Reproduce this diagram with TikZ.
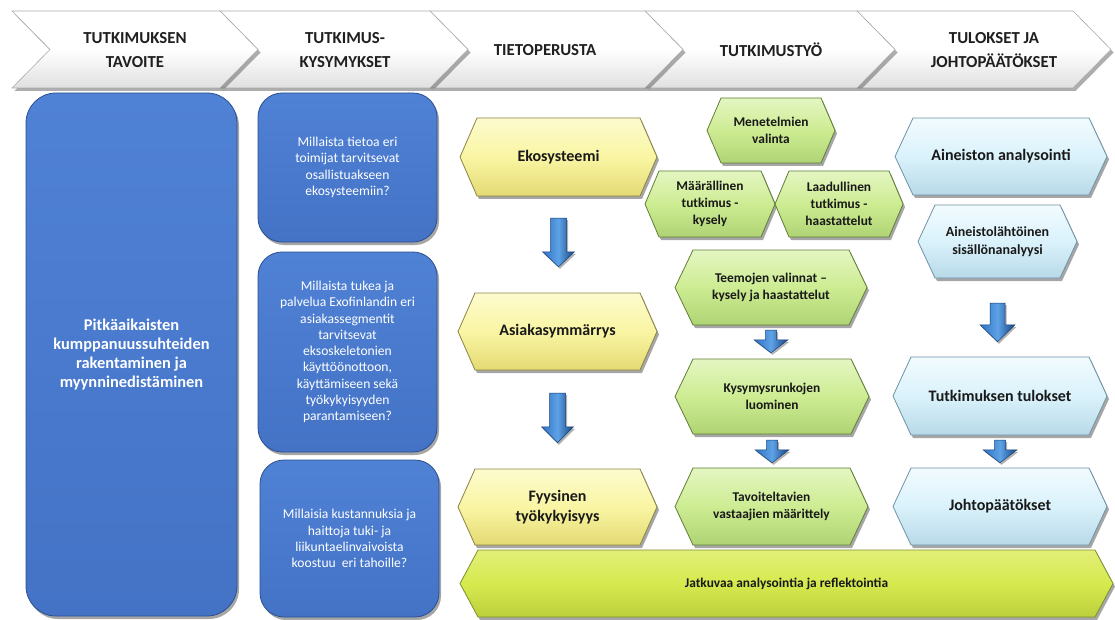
\documentclass[tikz,border=0pt]{standalone}
\usepackage{fontspec}
\setmainfont{Carlito}
\usetikzlibrary{shadows,calc}

% palette
\definecolor{chevtop}{HTML}{FFFFFF}
\definecolor{chevbot}{HTML}{E0E0E0}
\definecolor{chevline}{HTML}{ABABAB}
\definecolor{qblue}{HTML}{4473C6}
\definecolor{qbluelight}{HTML}{4F81D4}
\definecolor{qbluedark}{HTML}{2B4F8F}
\definecolor{yelA}{HTML}{FDFBCF}
\definecolor{yelB}{HTML}{F9F5A3}
\definecolor{yelC}{HTML}{E4DA74}
\definecolor{yelline}{HTML}{8A8440}
\definecolor{grnA}{HTML}{E4F6C2}
\definecolor{grnB}{HTML}{CDEC92}
\definecolor{grnC}{HTML}{AFD474}
\definecolor{grnline}{HTML}{5F7F35}
\definecolor{cyaA}{HTML}{F2FBFE}
\definecolor{cyaB}{HTML}{DAF2FB}
\definecolor{cyaC}{HTML}{B8D9E8}
\definecolor{cyaline}{HTML}{6E93A6}
\definecolor{limA}{HTML}{E2EF78}
\definecolor{limB}{HTML}{D6E94E}
\definecolor{limC}{HTML}{BCD03C}
\definecolor{limline}{HTML}{7D8F2A}
\definecolor{arrL}{HTML}{2F72C4}
\definecolor{arrM}{HTML}{5DA2E6}
\definecolor{arrR}{HTML}{16437F}
\definecolor{arrline}{HTML}{173F75}

\tikzset{
  softshadow/.style={drop shadow={shadow xshift=2pt, shadow yshift=-3pt, opacity=.35, fill=black}},
  chev/.style={top color=chevtop, bottom color=chevbot, middle color=chevtop, draw=chevline, line width=.6pt,
    drop shadow={shadow xshift=2.5pt, shadow yshift=-3pt, opacity=.45, fill=black!70}},
  chevtext/.style={align=center, inner sep=0pt, font=\fontsize{16.8}{24}\selectfont\bfseries, text=black!88},
  qbox/.style={top color=qbluelight, bottom color=qblue, draw=qbluedark, line width=.8pt, softshadow,
    text=white, align=center, inner sep=0pt},
  goaltext/.style={font=\fontsize{16.4}{19.3}\selectfont\bfseries},
  qtext/.style={font=\fontsize{13.6}{16.25}\selectfont},
  hexY/.style={top color=yelA, bottom color=yelC, middle color=yelB, draw=yelline, line width=.8pt, softshadow},
  hexG/.style={top color=grnA, bottom color=grnC, middle color=grnB, draw=grnline, line width=.8pt, softshadow},
  hexC/.style={top color=cyaA, bottom color=cyaC, middle color=cyaB, draw=cyaline, line width=.8pt, softshadow},
  hexL/.style={top color=limA, bottom color=limC, middle color=limB, draw=limline, line width=.8pt, softshadow},
  hextext/.style={align=center, inner sep=0pt, text=black!90},
  bigtext/.style={font=\fontsize{16}{20}\selectfont\bfseries},
  smalltext/.style={font=\fontsize{13.4}{16.8}\selectfont\bfseries},
  midtext/.style={font=\fontsize{14}{18}\selectfont\bfseries},
  arrowbody/.style={left color=arrL, right color=arrR, middle color=arrM, draw=arrline, line width=.5pt,
    drop shadow={shadow xshift=1.5pt, shadow yshift=-2pt, opacity=.3, fill=black}},
}

% chevron of the header band: name, left x, right x, text centre x, text
\newcommand\chevron[5]{%
  \path[chev] (#2,11) -- (#3,11) -- ({#3+38},49.5) -- (#3,88) -- (#2,88) -- ({#2+38},49.5) -- cycle;
  \node[chevtext] (#1) at (#4,50) {#5};}

% hexagon with its text: name, left, top, right, bottom, inset, shape style, text style, text
\newcommand\hexbox[9]{%
  \path[#7] (#2,{(#3+#5)/2}) -- ({#2+#6},#3) -- ({#4-#6},#3) -- (#4,{(#3+#5)/2})
        -- ({#4-#6},#5) -- ({#2+#6},#5) -- cycle;
  \node[hextext, #8, minimum width={(#4-#2)*1pt}, minimum height={(#5-#3)*1pt}]
        (#1) at ({(#2+#4)/2},{(#3+#5)/2}) {#9};}

% block arrow pointing down from one node to the next:
% from, to, top gap, bottom gap, shaft half width, head half width, head length
\newcommand\blockdown[7]{%
  \path[arrowbody] let \p1=(#1.south), \p2=(#2.north) in
    (\x1-#5pt,\y1-#3pt) -- (\x1+#5pt,\y1-#3pt) -- (\x1+#5pt,\y2+#4pt+#7pt)
    -- (\x1+#6pt,\y2+#4pt+#7pt) -- (\x1,\y2+#4pt) -- (\x1-#6pt,\y2+#4pt+#7pt)
    -- (\x1-#5pt,\y2+#4pt+#7pt) -- cycle;}

\begin{document}
\begin{tikzpicture}[x=1pt, y=-1pt]
\useasboundingbox (0,0) rectangle (1115,620);
\fill[white] (0,0) rectangle (1115,620);

% header band, drawn right to left so each tip shadow lies on the next chevron
\chevron{h5}{857}{1073}{994}{TULOKSET JA\\JOHTOPÄÄTÖKSET}
\chevron{h4}{645}{857}{771}{TUTKIMUSTYÖ}
\chevron{h3}{430}{645}{545}{TIETOPERUSTA}
\chevron{h2}{220}{430}{345}{TUTKIMUS-\\KYSYMYKSET}
\chevron{h1}{12}{220}{135}{TUTKIMUKSEN\\TAVOITE}

% research goal and research questions
\node[qbox, goaltext, rounded corners=30pt, minimum width=211pt, minimum height=523pt] (goal) at (131.5,354.5)
  {Pitkäaikaisten\\kumppanuussuhteiden\\rakentaminen ja\\myynninedistäminen};
\node[qbox, qtext, rounded corners=24pt, minimum width=179pt, minimum height=149pt] (q1) at (347.5,167.5)
  {Millaista tietoa eri\\toimijat tarvitsevat\\osallistuakseen\\ekosysteemiin?};
\node[qbox, qtext, rounded corners=24pt, minimum width=179pt, minimum height=200pt] (q2) at (347.5,352)
  {Millaista tukea ja\\palvelua Exofinlandin eri\\asiakassegmentit\\tarvitsevat\\eksoskeletonien\\käyttöönottoon,\\käyttämiseen sekä\\työkykyisyyden\\parantamiseen?};
\node[qbox, qtext, rounded corners=24pt, minimum width=179pt, minimum height=157pt] (q3) at (349.5,538.5)
  {Millaisia kustannuksia ja\\haittoja tuki- ja\\liikuntaelinvaivoista\\koostuu\ \ eri tahoille?};

% knowledge base
\hexbox{eko}{460}{118}{657}{196}{17}{hexY}{bigtext}{Ekosysteemi}
\hexbox{asia}{458}{293}{657}{370}{17}{hexY}{bigtext}{Asiakasymmärrys}
\hexbox{fyys}{458}{469}{657}{545}{17}{hexY}{bigtext}{Fyysinen\\työkykyisyys}
\blockdown{eko}{asia}{22}{26}{8}{16}{15}
\blockdown{asia}{fyys}{23}{26}{8}{16}{16}

% research work
\hexbox{mene}{707}{98}{835}{163}{14}{hexG}{smalltext}{Menetelmien\\valinta}
\hexbox{maar}{645}{171}{775}{237}{14}{hexG}{smalltext}{Määrällinen\\tutkimus -\\kysely}
\hexbox{laad}{775}{171}{903}{237}{14}{hexG}{smalltext}{Laadullinen\\tutkimus -\\haastattelut}
\hexbox{teem}{675}{250}{867}{325}{18}{hexG}{smalltext}{Teemojen valinnat –\\kysely ja haastattelut}
\hexbox{kysy}{675}{359}{869}{434}{18}{hexG}{smalltext}{Kysymysrunkojen\\luominen}
\hexbox{tavo}{675}{468}{868}{545}{18}{hexG}{smalltext}{Tavoiteltavien\\vastaajien määrittely}
\blockdown{teem}{kysy}{5}{6}{5.5}{17}{13}
\blockdown{kysy}{tavo}{6}{5}{5.5}{17}{13}

% results and conclusions
\hexbox{ainA}{895}{118}{1107}{195}{18}{hexC}{bigtext}{Aineiston analysointi}
\hexbox{ainB}{918}{205}{1077}{278}{17}{hexC}{midtext}{Aineistolähtöinen\\sisällönanalyysi}
\hexbox{tulo}{893}{357}{1107}{435}{18}{hexC}{bigtext}{Tutkimuksen tulokset}
\hexbox{joht}{893}{468}{1107}{545}{18}{hexC}{bigtext}{Johtopäätökset}
\blockdown{ainB}{tulo}{25}{15}{7.5}{17.5}{17}
\blockdown{tulo}{joht}{5}{5}{5.5}{17}{13}

% continuous analysis band
\hexbox{jatk}{460}{550}{1113}{617}{18}{hexL}{smalltext}{Jatkuvaa analysointia ja reflektointia}
\end{tikzpicture}
\end{document}
